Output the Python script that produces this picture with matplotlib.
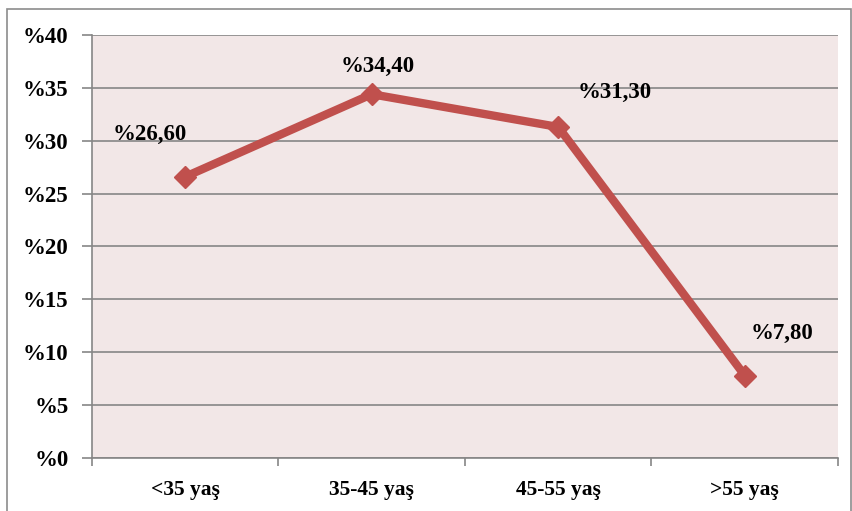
import matplotlib
matplotlib.use("Agg")
import matplotlib.pyplot as plt
from matplotlib.patches import Rectangle

categories = ["<35 yaş", "35-45 yaş", "45-55 yaş", ">55 yaş"]
values = [26.6, 34.4, 31.3, 7.8]
labels = ["%26,60", "%34,40", "%31,30", "%7,80"]
yticks = [0, 5, 10, 15, 20, 25, 30, 35, 40]
ytick_labels = ["%" + str(v) for v in yticks]

plt.rcParams['font.family'] = ['Liberation Serif', 'DejaVu Serif']
plt.rcParams['font.weight'] = 'bold'

fig = plt.figure(figsize=(8.53, 5.11), dpi=100)
fig.patches.append(Rectangle((7/853, -0.05), (851-7)/853, 1 - 9/511 + 0.05,
                             transform=fig.transFigure, fill=False,
                             edgecolor='#8c8c8c', linewidth=1.2))
ax = fig.add_axes([92/853, 1-458/511, (838-92)/853, (458-35)/511])
ax.set_facecolor('#f2e7e7')

x = list(range(len(categories)))
ax.plot(x, values, color='#c0504d', linewidth=6, marker='D', markersize=11,
        solid_capstyle='butt', zorder=3)

offsets = [(-0.19, 4.0), (0.03, 2.6), (0.3, 3.3), (0.2, 4.0)]
for xi, v, lab, (dx, dy) in zip(x, values, labels, offsets):
    ax.text(xi + dx, v + dy, lab, ha='center', va='center', fontsize=16.5,
            fontweight='bold', color='black')

ax.set_xlim(-0.5, 3.5)
ax.set_ylim(0, 40)
ax.set_yticks(yticks)
ax.set_yticklabels(ytick_labels, fontsize=16.5, fontweight='bold')
ax.set_xticks(x)
ax.set_xticklabels(categories, fontsize=15.5, fontweight='bold')
ax.set_xticks([-0.5, 0.5, 1.5, 2.5, 3.5], minor=True)
ax.tick_params(axis='x', which='major', length=0, pad=16)
ax.tick_params(axis='x', which='minor', length=6, color='#868686', width=1.2)
ax.tick_params(axis='y', length=7, color='#868686', width=1.2, pad=10)
ax.grid(axis='y', color='#868686', linewidth=1.2)
ax.set_axisbelow(True)
for s in ['top', 'right']:
    ax.spines[s].set_visible(False)
for s in ['left', 'bottom']:
    ax.spines[s].set_color('#868686')
    ax.spines[s].set_linewidth(1.2)

fig.savefig('out.png', dpi=100)
